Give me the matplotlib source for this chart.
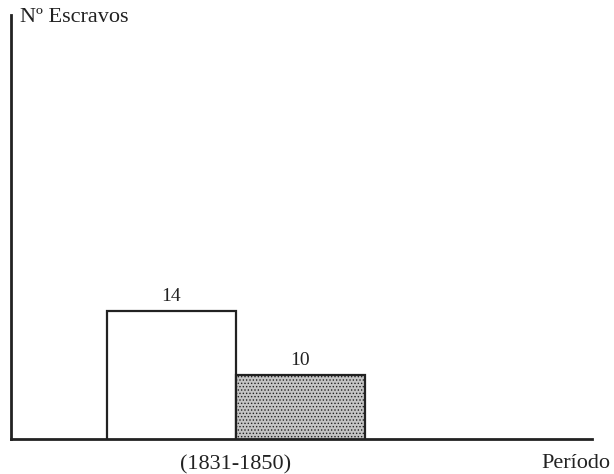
import matplotlib
matplotlib.use("Agg")
import matplotlib.pyplot as plt

# data
periods = ["(1831-1850)"]
series_values = [14, 10]          # left bar, right bar
bar_positions = [0, 1]
bar_faces = ["white", "#c4c4c4"]
bar_hatches = [None, "....."]

plt.rcParams["font.family"] = ["Liberation Serif", "DejaVu Serif"]
plt.rcParams["hatch.color"] = "#555555"
plt.rcParams["hatch.linewidth"] = 0.6

fig = plt.figure(figsize=(6.14, 4.74), dpi=100)
ax = fig.add_axes([11 / 614, 35 / 474, 581 / 614, 424 / 474])

for pos, val, fc, h in zip(bar_positions, series_values, bar_faces, bar_hatches):
    ax.bar(pos, val, width=1, align="edge", facecolor=fc, edgecolor="#222222",
           linewidth=1.6, hatch=h)
    ax.text(pos + 0.5, val + 0.35, f"{val}", ha="center", va="bottom",
            fontsize=14, color="#222222")

ax.set_xlim(-0.744, 3.76)
ax.set_ylim(6, 32.5)

for s in ["top", "right"]:
    ax.spines[s].set_visible(False)
for s in ["left", "bottom"]:
    ax.spines[s].set_linewidth(2)
    ax.spines[s].set_color("#222222")

ax.set_yticks([])
ax.set_xticks([1])
ax.set_xticklabels(periods, fontsize=16, color="#222222")
ax.tick_params(axis="x", length=0, pad=12)

fig.text(20 / 614, 1 - 18 / 474, "Nº Escravos", ha="left", va="center",
         fontsize=16, color="#222222")
fig.text(610 / 614, 1 - 463 / 474, "Período", ha="right", va="center",
         fontsize=16, color="#222222")

fig.savefig("out.png", dpi=100, facecolor="white")
